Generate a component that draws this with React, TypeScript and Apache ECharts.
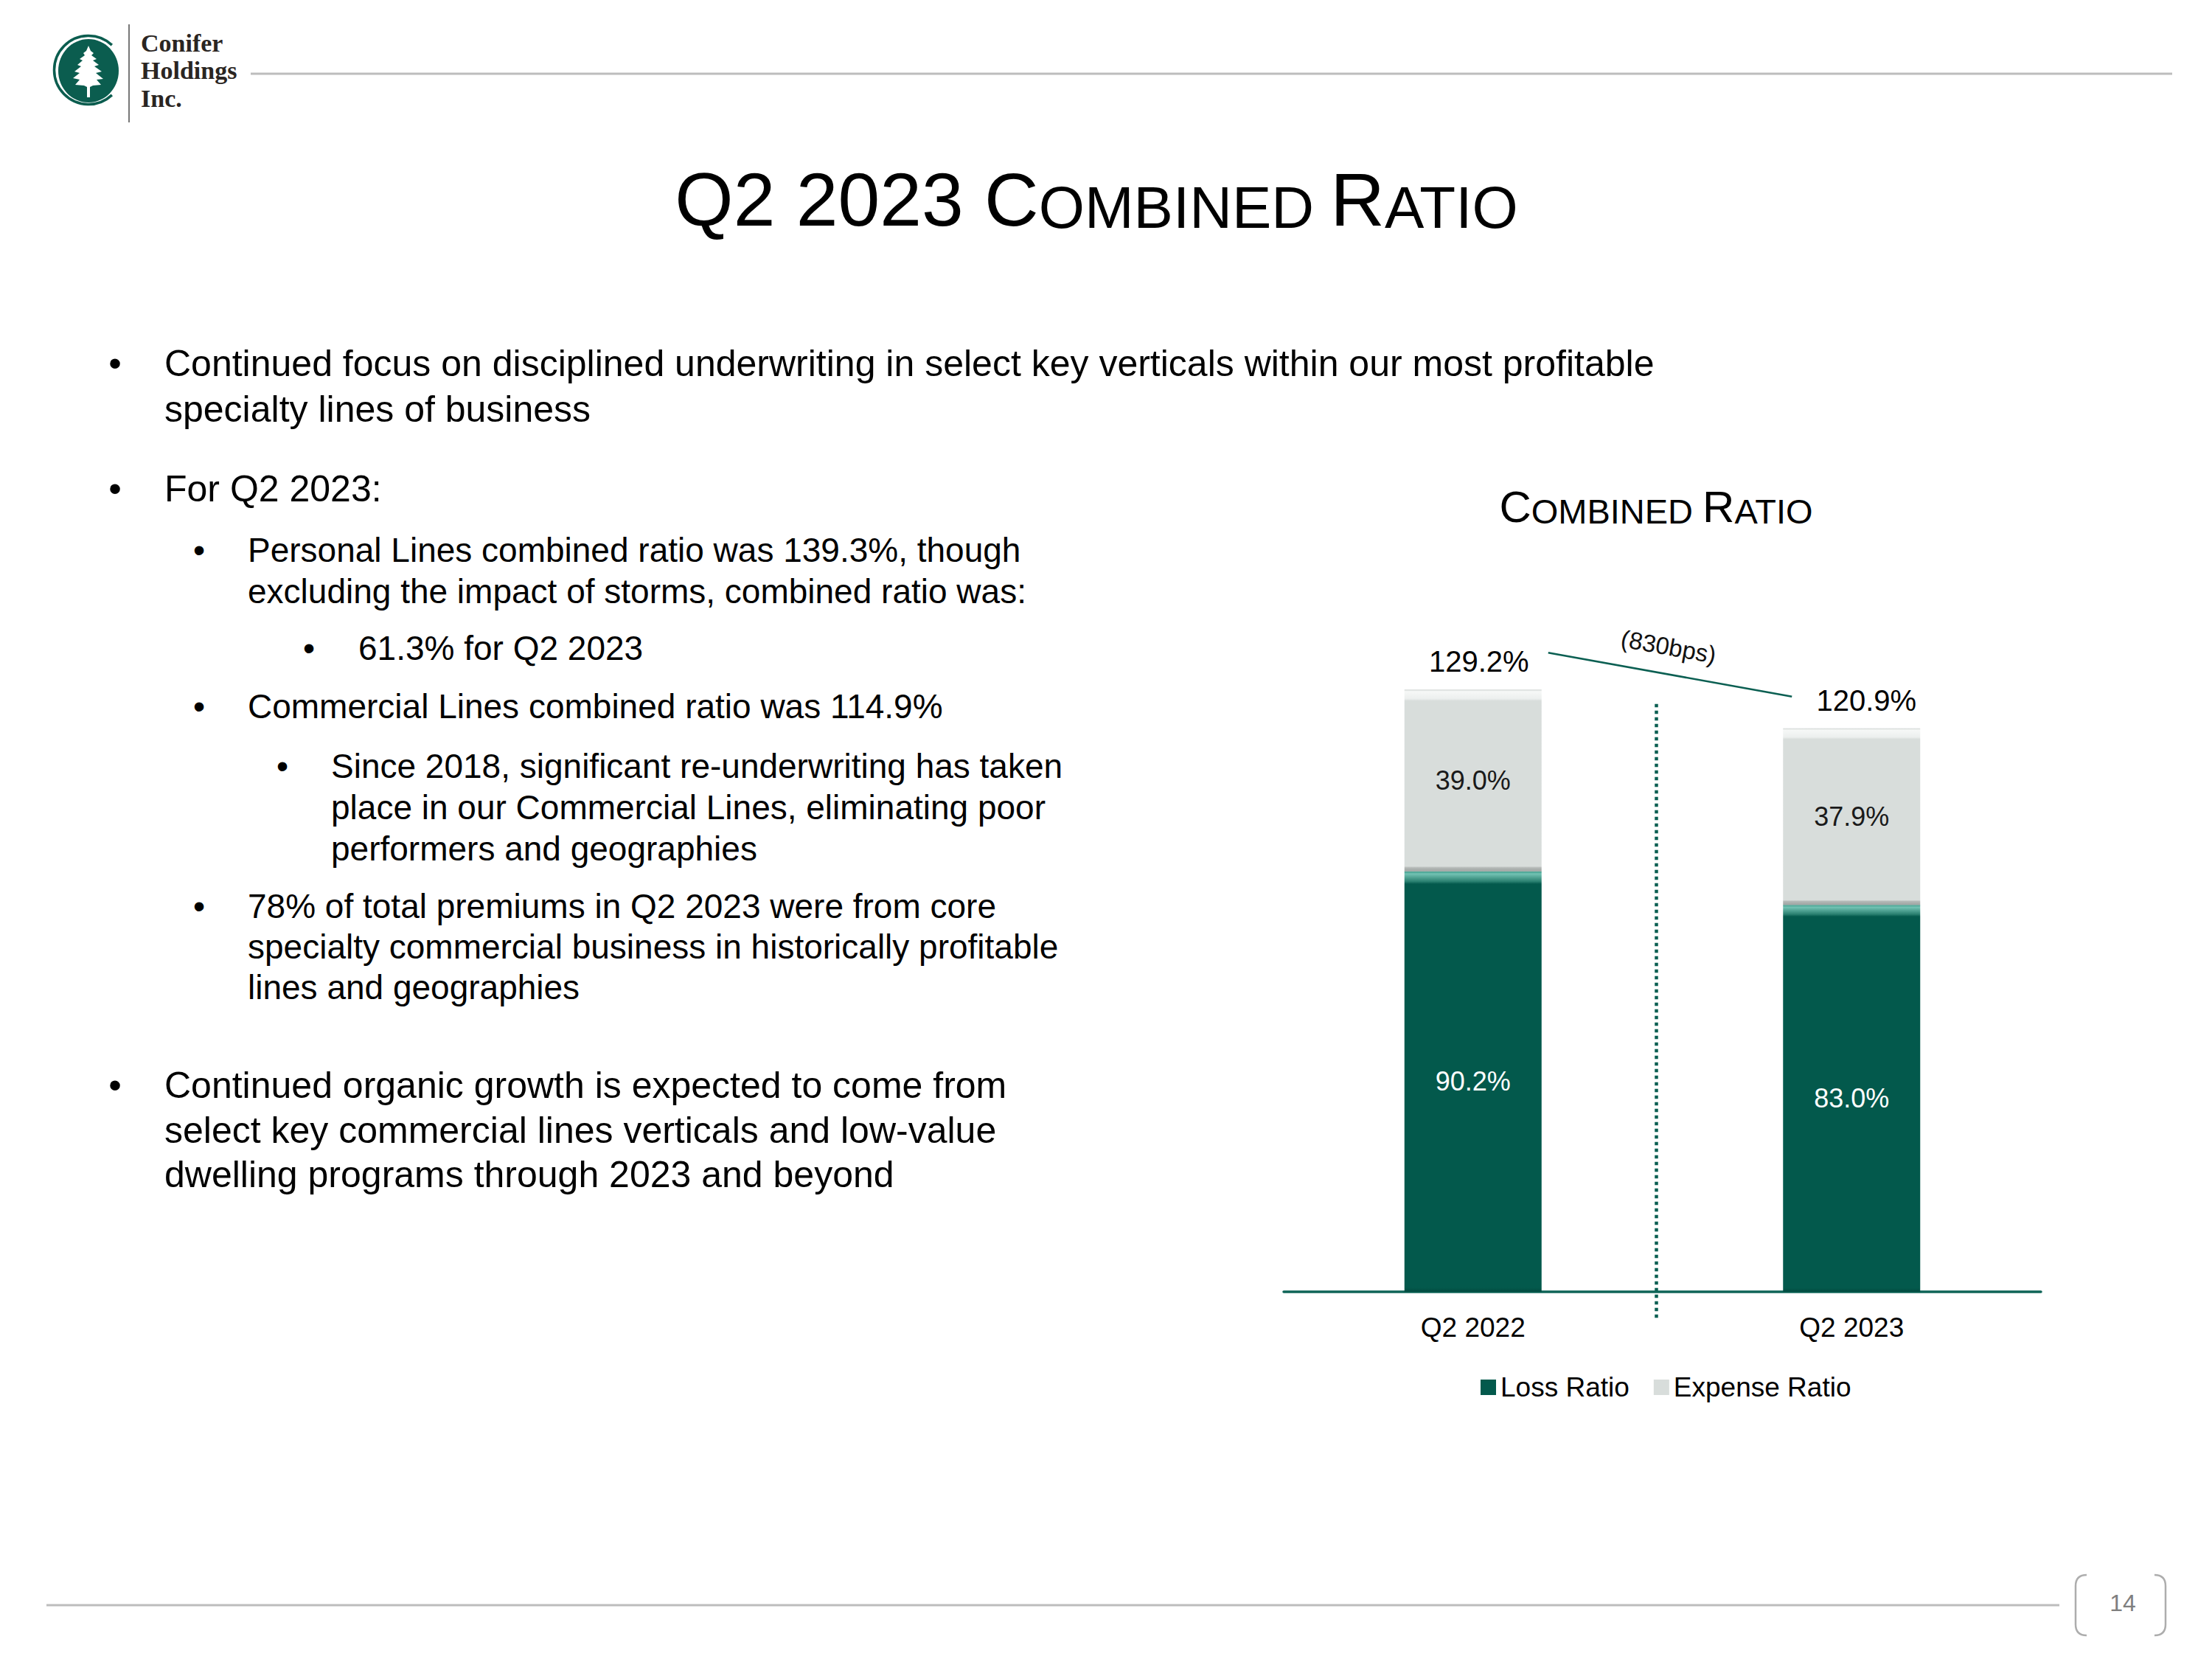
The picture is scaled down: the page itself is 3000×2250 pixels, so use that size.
import React, { useEffect, useRef } from 'react';
import * as echarts from 'echarts';

// ---- chart data ----
const categories = ['Q2 2022', 'Q2 2023'];
const lossRatio = [90.2, 83.0];
const expenseRatio = [39.0, 37.9];
const combinedRatio = [129.2, 120.9];
const seriesNames = ['Loss Ratio', 'Expense Ratio'];

// ---- slide copy: [indent level, has bullet, text] ----
const bodyLines: [number, boolean, string][] = [
  [0, true, 'Continued focus on disciplined underwriting in select key verticals within our most profitable'],
  [0, false, 'specialty lines of business'],
  [0, true, 'For Q2 2023:'],
  [1, true, 'Personal Lines combined ratio was 139.3%, though'],
  [1, false, 'excluding the impact of storms, combined ratio was:'],
  [2, true, '61.3% for Q2 2023'],
  [1, true, 'Commercial Lines combined ratio was 114.9%'],
  [3, true, 'Since 2018, significant re-underwriting has taken'],
  [3, false, 'place in our Commercial Lines, eliminating poor'],
  [3, false, 'performers and geographies'],
  [1, true, '78% of total premiums in Q2 2023 were from core'],
  [1, false, 'specialty commercial business in historically profitable'],
  [1, false, 'lines and geographies'],
  [0, true, 'Continued organic growth is expected to come from'],
  [0, false, 'select key commercial lines verticals and low-value'],
  [0, false, 'dwelling programs through 2023 and beyond'],
];

const SANS = '"Liberation Sans", Arial, Helvetica, sans-serif';
const SERIF = '"Liberation Serif", "Times New Roman", serif';
const GREEN = '#03594c';
const GREY = '#d8dddb';
const RULE = '#bdbdbd';

// baselines of the body copy lines
const LINE_BASE = [510, 572, 680, 762, 818, 895, 974, 1055, 1111, 1167, 1245, 1300, 1355, 1489, 1550, 1610];
// indent per level: [bullet centre x, text x, font size]
const LEVELS: [number, number, number][] = [
  [156, 223, 50],
  [270, 336, 46],
  [419, 486, 46],
  [383, 449, 46],
];

echarts.graphic.registerShape(
  'bracketLeft',
  echarts.graphic.extendPath('M15 0 Q0 0 0 15 L0 67 Q0 82 15 82', {})
);
echarts.graphic.registerShape(
  'bracketRight',
  echarts.graphic.extendPath('M0 0 Q15 0 15 15 L15 67 Q15 82 0 82', {})
);

// text placed by its alphabetic baseline (SVG renderer centres on the 'central' baseline)
function txt(x: number, baseline: number, size: number, text: string, extra: any = {}) {
  return {
    type: 'text',
    x,
    y: baseline - 0.3465 * size,
    silent: true,
    style: {
      text,
      fontSize: size,
      fontFamily: SANS,
      fill: '#000',
      align: 'left',
      verticalAlign: 'middle',
      ...extra,
    },
  };
}

// small-caps heading drawn as rich text
function smallCaps(cx: number, baseline: number, size: number, parts: [string, boolean][]) {
  const small = Math.round(size * 0.785);
  return {
    type: 'text',
    x: cx,
    y: baseline + 0.1535 * size,
    silent: true,
    style: {
      text: parts.map(([s, big]) => `{${big ? 'b' : 's'}|${s}}`).join(''),
      align: 'center',
      verticalAlign: 'bottom',
      rich: {
        b: { fontSize: size, fontFamily: SANS, fill: '#000', verticalAlign: 'bottom' },
        s: { fontSize: small, fontFamily: SANS, fill: '#000', verticalAlign: 'bottom' },
      },
    },
  };
}

function pctLabel(p: any) {
  return Number(p.value).toFixed(1) + '%';
}

function staticGraphics(): any[] {
  const g: any[] = [];
  // header rule and logo
  g.push({ type: 'line', silent: true, shape: { x1: 340, y1: 100, x2: 2946, y2: 100 }, style: { stroke: RULE, lineWidth: 3 } });
  g.push({ type: 'ellipse', silent: true, shape: { cx: 120, cy: 96, rx: 41, ry: 43 }, style: { fill: '#0b5d4f' } });
  g.push({
    type: 'arc', silent: true,
    shape: { cx: 120, cy: 95, r: 46.5, startAngle: Math.PI * 0.26, endAngle: Math.PI * 1.74, clockwise: true },
    style: { stroke: '#0b5d4f', lineWidth: 3.5, fill: 'none' },
  });
  g.push({
    type: 'polygon', silent: true,
    shape: {
      points: [
        [120, 62], [123, 69], [127, 72], [124, 75], [131, 80], [126, 82], [134, 88], [128, 90], [138, 97],
        [130, 99], [140, 107], [131, 108], [137, 115], [126, 116], [122, 118], [122, 132], [118, 132],
        [118, 118], [114, 116], [102, 115], [108, 108], [99, 106], [108, 99], [101, 97], [110, 90],
        [105, 88], [112, 82], [108, 80], [115, 75], [113, 72], [117, 69],
      ],
    },
    style: { fill: '#ffffff' },
  });
  g.push({ type: 'line', silent: true, shape: { x1: 175, y1: 33, x2: 175, y2: 166 }, style: { stroke: '#4a4a4a', lineWidth: 1.5 } });
  ['Conifer', 'Holdings', 'Inc.'].forEach((w, i) => {
    g.push(txt(191, [70, 107, 145][i], 34, w, { fontFamily: SERIF, fill: '#2a2522', fontWeight: 'bold' }));
  });

  // slide title
  g.push(smallCaps(1487, 306, 102, [['Q2 2023 C', true], ['OMBINED ', false], ['R', true], ['ATIO', false]]));

  // body copy
  bodyLines.forEach(([lvl, bullet, text], i) => {
    const [bx, tx, size] = LEVELS[lvl];
    const base = LINE_BASE[i];
    if (bullet) g.push(txt(bx, base, size, '•', { align: 'center' }));
    g.push(txt(tx, base, size, text));
  });

  // chart heading
  g.push(smallCaps(2246, 708, 60, [['C', true], ['OMBINED ', false], ['R', true], ['ATIO', false]]));

  // footer rule and page number
  g.push({ type: 'line', silent: true, shape: { x1: 63, y1: 2177, x2: 2793, y2: 2177 }, style: { stroke: RULE, lineWidth: 3 } });
  g.push({ type: 'bracketLeft', silent: true, x: 2815, y: 2136, style: { fill: 'none', stroke: '#adadad', lineWidth: 2.5 } });
  g.push({ type: 'bracketRight', silent: true, x: 2922, y: 2136, style: { fill: 'none', stroke: '#adadad', lineWidth: 2.5 } });
  g.push(txt(2879, 2185, 32, '14', { align: 'center', fill: '#7f7f7f' }));
  return g;
}

function buildOption(): any {
  const lossFill = {
    type: 'linear', x: 0, y: 0, x2: 0, y2: 1,
    colorStops: [
      { offset: 0, color: '#3f9c8b' },
      { offset: 0.006, color: '#72c2b3' },
      { offset: 0.024, color: '#2a8070' },
      { offset: 0.03, color: GREEN },
      { offset: 0.99, color: GREEN },
      { offset: 1, color: '#024a3f' },
    ],
  };
  const expenseFill = {
    type: 'linear', x: 0, y: 0, x2: 0, y2: 1,
    colorStops: [
      { offset: 0, color: '#cfd4d2' },
      { offset: 0.01, color: '#f6f8f7' },
      { offset: 0.05, color: '#eceFee' },
      { offset: 0.062, color: GREY },
      { offset: 0.972, color: GREY },
      { offset: 0.98, color: '#b4b9b7' },
      { offset: 1, color: '#9ea3a1' },
    ],
  };
  return {
    animation: false,
    backgroundColor: '#ffffff',
    grid: { left: 1741, right: 232, top: 867, bottom: 498, containLabel: false },
    xAxis: {
      type: 'category',
      data: categories,
      axisLine: { show: true, lineStyle: { color: '#0e6457', width: 3.5 } },
      axisTick: { show: false },
      axisLabel: { fontSize: 37, color: '#000', fontFamily: SANS, margin: 30 },
      splitLine: { show: false },
    },
    yAxis: { type: 'value', min: 0, max: 140, show: false, splitLine: { show: false } },
    legend: {
      data: [
        { name: seriesNames[0], itemStyle: { color: GREEN } },
        { name: seriesNames[1], itemStyle: { color: GREY } },
      ],
      left: 2003,
      top: 1858,
      icon: 'rect',
      itemWidth: 21,
      itemHeight: 21,
      itemGap: 33,
      textStyle: { fontSize: 37, color: '#000', fontFamily: SANS, padding: [0, 0, 0, 1] },
      selectedMode: false,
    },
    series: [
      {
        name: seriesNames[0],
        type: 'bar',
        stack: 'ratio',
        barWidth: 186,
        data: lossRatio,
        itemStyle: { color: lossFill },
        label: { show: true, position: 'inside', formatter: pctLabel, color: '#ffffff', fontSize: 36, fontFamily: SANS },
        silent: true,
      },
      {
        name: seriesNames[1],
        type: 'bar',
        stack: 'ratio',
        barWidth: 186,
        data: expenseRatio,
        itemStyle: { color: expenseFill },
        label: { show: true, position: 'inside', formatter: pctLabel, color: '#1a1a1a', fontSize: 36, fontFamily: SANS },
        silent: true,
      },
      {
        name: 'Combined Ratio',
        type: 'scatter',
        data: combinedRatio.map((v, i) => ({ value: v, label: { offset: [i === 0 ? 8 : 20, 0] } })),
        symbolSize: 0,
        itemStyle: { color: '#000000', opacity: 1 },
        label: { show: true, position: 'top', distance: 18, formatter: pctLabel, color: '#000000', fontSize: 40, fontFamily: SANS },
        silent: true,
        z: 5,
      },
    ],
  };
}

export default function App() {
  const ref = useRef<HTMLDivElement>(null);
  useEffect(() => {
    document.body.style.margin = '0';
    const el = ref.current;
    if (!el) return;
    const chart = echarts.init(el, undefined, { renderer: 'svg' });
    chart.setOption(buildOption());

    // annotations anchored to the plotted totals
    const p0 = chart.convertToPixel({ gridIndex: 0 }, [0, combinedRatio[0]]) as number[];
    const p1 = chart.convertToPixel({ gridIndex: 0 }, [1, combinedRatio[1]]) as number[];
    const base = chart.convertToPixel({ gridIndex: 0 }, [0, 0]) as number[];
    const a = [p0[0] + 102, p0[1] - 50];
    const b = [p1[0] - 81, p1[1] - 43];
    const bps = Math.round((combinedRatio[0] - combinedRatio[1]) * 100);
    const sepX = (p0[0] + p1[0]) / 2 - 8;

    const dynamic: any[] = [
      { type: 'line', silent: true, shape: { x1: a[0], y1: a[1], x2: b[0], y2: b[1] }, style: { stroke: '#0b5f52', lineWidth: 2.5 } },
      {
        type: 'text', silent: true,
        x: (a[0] + b[0]) / 2 - 2,
        y: (a[1] + b[1]) / 2 - 38,
        rotation: -0.18,
        style: { text: `(${bps}bps)`, fontSize: 33, fontFamily: SANS, fill: '#111', align: 'center', verticalAlign: 'middle' },
      },
      {
        type: 'line', silent: true,
        shape: { x1: sepX, y1: p1[1] - 33, x2: sepX, y2: base[1] + 38 },
        style: { stroke: '#0b5f52', lineWidth: 4.5, lineDash: [4.5, 4.5] },
      },
    ];
    chart.setOption({ graphic: [...staticGraphics(), ...dynamic] });
    return () => chart.dispose();
  }, []);
  return (
    <div
      ref={ref}
      style={{ position: 'absolute', left: 0, top: 0, width: 3000, height: 2250, background: '#fff' }}
    />
  );
}
